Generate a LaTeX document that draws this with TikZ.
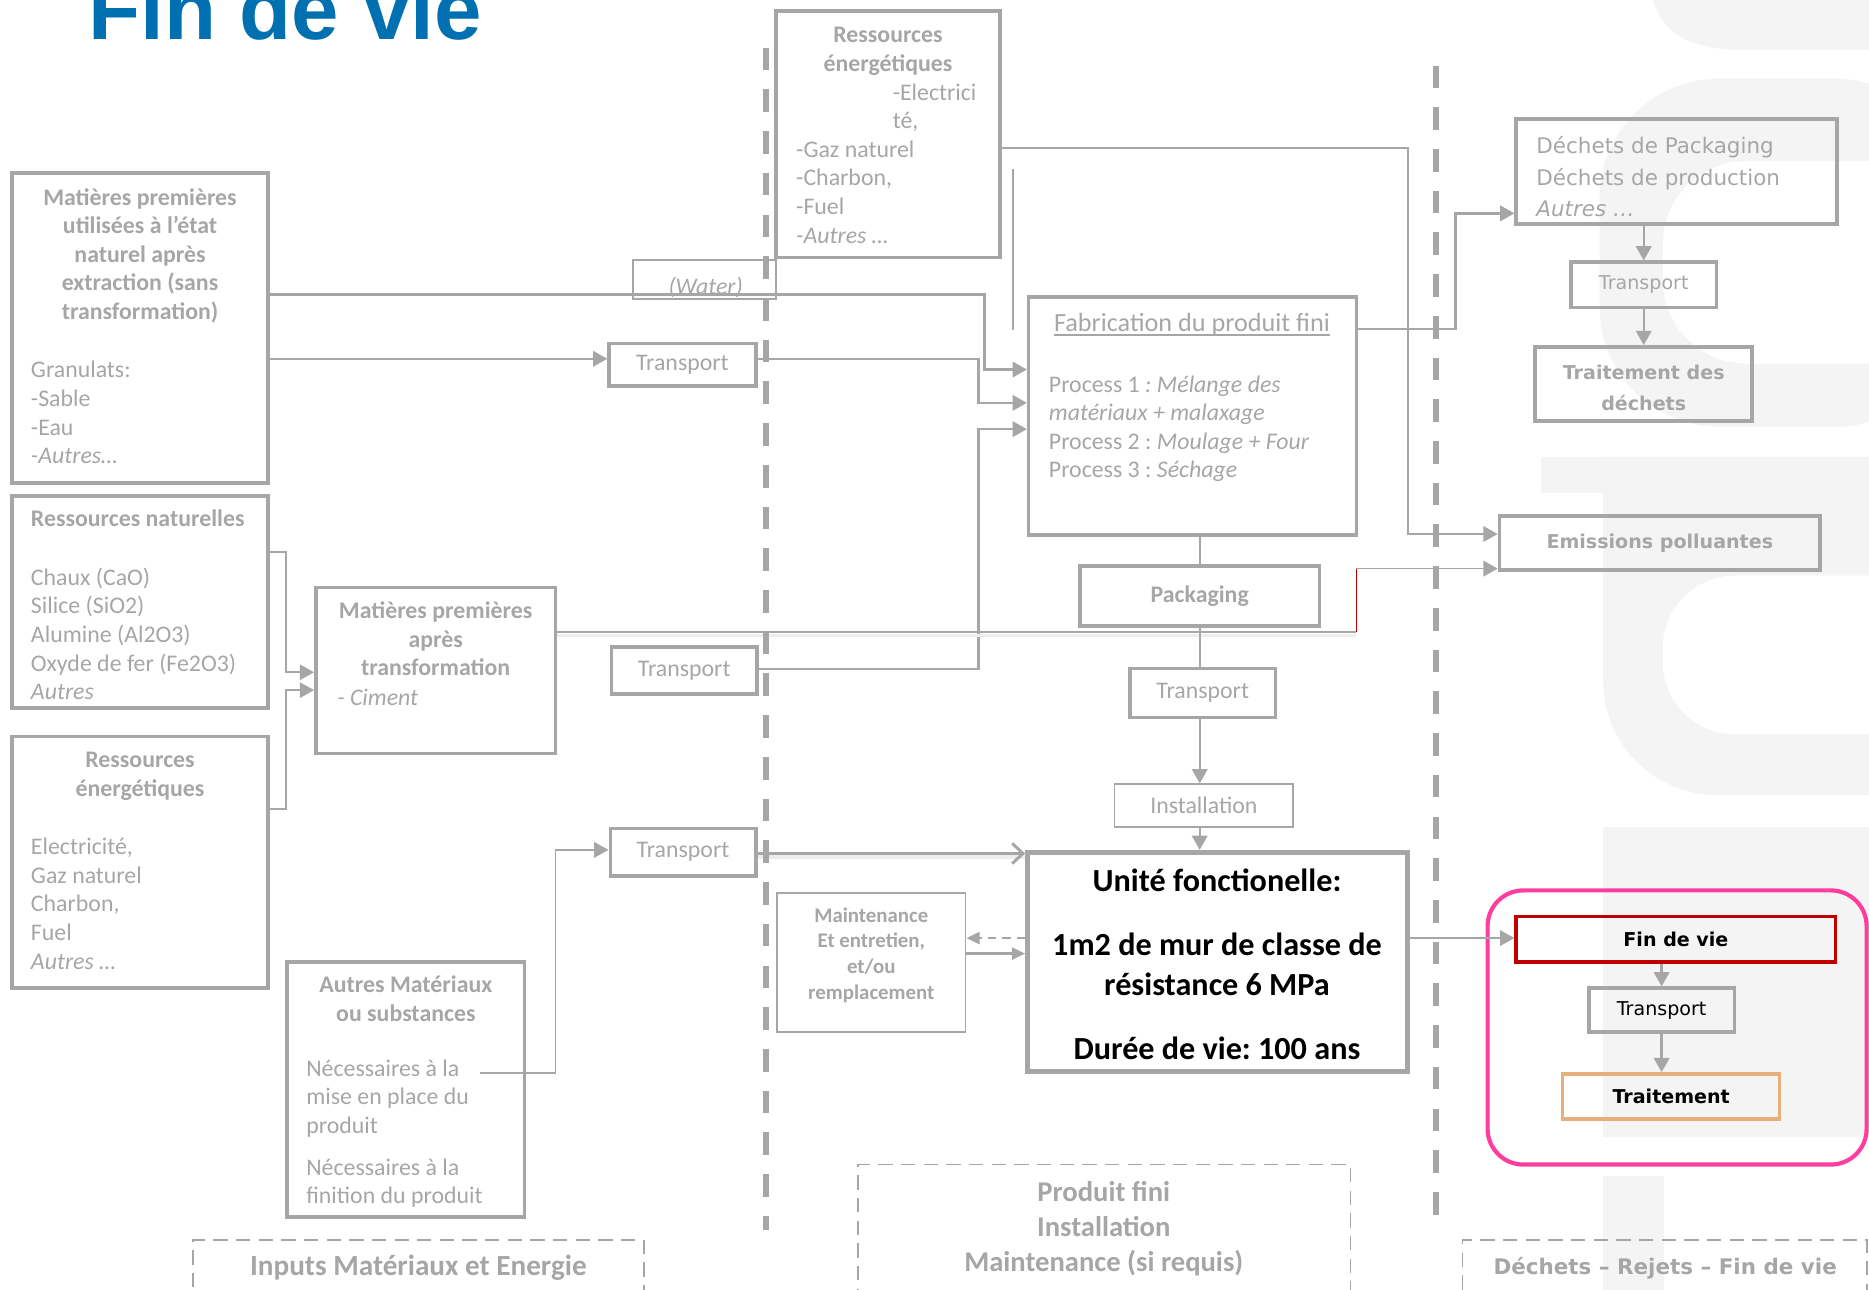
\documentclass[tikz,border=0pt]{standalone}
\usepackage{fontspec}
\setmainfont{Carlito}
\newfontfamily\vfam{DejaVu Sans}
\newfontfamily\hfam{Liberation Sans}
\usetikzlibrary{arrows.meta}
\definecolor{lg}{RGB}{166,166,166}
\definecolor{wm}{RGB}{244,244,244}
\definecolor{titleblue}{RGB}{0,112,176}
\definecolor{fvred}{RGB}{192,0,0}
\definecolor{fvorange}{RGB}{233,175,122}
\definecolor{fvpink}{RGB}{255,61,158}
\newcommand{\fsz}[2]{\fontsize{#1}{#2}\selectfont}
\newcommand{\fst}{\rule{0pt}{1em}}
\frenchspacing
\tikzset{
  box/.style={draw=lg, line width=3pt, inner sep=0pt, text=lg, font=\fsz{20}{24}},
  thinbox/.style={box, line width=1.5pt},
  txt/.style={inner sep=0pt, outer sep=0pt, text=lg, font=\fsz{20}{24}},
  btxt/.style={txt, font=\fsz{20}{24}\bfseries},
  conn/.style={draw=lg, line width=2pt},
  thinconn/.style={draw=lg, line width=1.5pt},
  tip/.style={-{Triangle[length=12pt,width=13pt]}},
  smalltip/.style={-{Triangle[length=11pt,width=10pt]}},
  sepline/.style={draw=lg, line width=5pt, dash pattern=on 19pt off 16pt},
  lblbox/.style={draw=lg, line width=1.5pt, dash pattern=on 12pt off 7pt, inner sep=0pt},
  shade line/.style={draw=black!7, line width=3pt},
  unitfont/.style={inner sep=0pt, font=\fsz{27}{34}\bfseries},
}
\begin{document}
\begin{tikzpicture}[x=1pt,y=-1pt]
\useasboundingbox (0,0) rectangle (1568,1082);
\clip (0,0) rectangle (1568,1082);

% background logo, very light
\fill[wm] (1387,0) .. controls (1395,30) and (1420,42) .. (1467,42) -- (1568,42) -- (1568,0) -- cycle;
\fill[wm, even odd rule] [rounded corners=100pt] (1342,66) rectangle (1640,358)
      [rounded corners=70pt] (1395,135) rectangle (1640,305);
\fill[wm] (1293,383) rectangle (1345,414);
\fill[wm, even odd rule] (1345,383) -- (1640,383) -- (1640,667) -- (1440,667)
      .. controls (1388,667) and (1345,624) .. (1345,572) -- cycle
      (1640,483) -- (1455,483) .. controls (1422,483) and (1395,510) .. (1395,543)
      -- (1395,556) .. controls (1395,589) and (1422,616) .. (1455,616) -- (1640,616) -- cycle;
\fill[wm] (1345,694) rectangle (1640,954);
\fill[wm] (1345,987) rectangle (1396,1090);

% title
\node[inner sep=0pt, anchor=base west, text=titleblue, font=\hfam\bfseries\fsz{71.5}{80}] (title) at (74,33) {Fin de vie};

% ---------- inputs ----------
\node[box, minimum width=215pt, minimum height=260pt] (b1) at (117.5,275) {};
\node[btxt, align=center, anchor=north] (b1h) at (117.5,152) {\fst Matières premières\\utilisées à l’état\\naturel après\\extraction (sans\\transformation)};
\node[txt, align=left, anchor=north west] (b1l) at (26,297) {\fst Granulats:\\-Sable\\-Eau\\\textit{-Autres…}};

\node[box, minimum width=215pt, minimum height=178pt] (b2) at (117.5,505) {};
\node[btxt, anchor=north west] (b2h) at (26,422) {\fst Ressources naturelles};
\node[txt, align=left, anchor=north west] (b2l) at (26,471) {\fst Chaux (CaO)\\Silice (SiO2)\\Alumine (Al2O3)\\Oxyde de fer (Fe2O3)\\\textit{Autres}};

\node[box, minimum width=215pt, minimum height=211pt] (b3) at (117.5,723.5) {};
\node[btxt, align=center, anchor=north] (b3h) at (117.5,624) {\fst Ressources\\énergétiques};
\node[txt, align=left, anchor=north west] (b3l) at (26,697) {\fst Electricité,\\Gaz naturel\\Charbon,\\Fuel\\\textit{Autres …}};

\node[box, minimum width=201pt, minimum height=139pt] (b4) at (365.5,562.5) {};
\node[btxt, align=center, anchor=north] (b4h) at (365.5,499) {\fst Matières premières\\après\\transformation};
\node[txt, anchor=north west] (b4l) at (283,572) {\fst\textit{- Ciment}};

\node[box, minimum width=199pt, minimum height=214pt] (b5) at (340.5,914) {};
\node[btxt, align=center, anchor=north] (b5h) at (340.5,813) {\fst Autres Matériaux\\ou substances};
\node[txt, align=left, anchor=north west] (b5a) at (257,883) {\fst Nécessaires à la\\mise en place du\\produit};
\node[txt, align=left, anchor=north west] (b5b) at (257,966) {\fst Nécessaires à la\\finition du produit};

\node[box, minimum width=123pt, minimum height=36pt] (t1) at (572.5,306) {Transport};
\node[box, minimum width=122pt, minimum height=39pt] (t2) at (574,562.5) {Transport};
\node[box, minimum width=122pt, minimum height=40pt] (t3) at (573,715) {Transport};

\node[thinbox, minimum width=120pt, minimum height=33pt] (wat) at (591,234.5) {};
\node[txt, anchor=base] (watl) at (592,247) {\textit{(Water)}};

% ---------- production ----------
\node[box, minimum width=188pt, minimum height=207pt] (re) at (745,112.5) {};
\node[btxt, align=center, anchor=north] (reh) at (745,16) {\fst Ressources\\énergétiques};
\node[txt, align=left, anchor=north west] (rea) at (749,64) {\fst -Electrici\\té,};
\node[txt, align=left, anchor=north west] (reb) at (668,112) {\fst -Gaz naturel\\-Charbon,\\-Fuel\\\textit{-Autres …}};

\node[box, minimum width=275pt, minimum height=200pt] (fab) at (1000.5,349) {};
\node[txt, font=\fsz{22}{26}, anchor=base] (fabh) at (1000,278) {Fabrication du produit fini};
\draw[lg, line width=1.3pt] ([yshift=-3pt]fabh.base west) -- ([yshift=-3pt]fabh.base east);
\node[txt, align=left, anchor=north west] (fabl) at (880,309) {\fst Process 1 \textit{: Mélange des}\\\textit{matériaux + malaxage}\\Process 2 : \textit{Moulage + Four}\\Process 3 : \textit{Séchage}};

\node[box, font=\fsz{20}{24}\bfseries, minimum width=201pt, minimum height=50pt] (pack) at (1006.5,500) {Packaging};
\node[box, minimum width=122pt, minimum height=41pt] (t4) at (1009,581.5) {Transport};
\node[thinbox, minimum width=150pt, minimum height=36pt] (inst) at (1010,676) {Installation};

\node[box, line width=4pt, minimum width=319pt, minimum height=184pt] (unit) at (1021.5,807) {};
\node[unitfont, anchor=base] (u1) at (1021,748) {Unité fonctionelle:};
\node[unitfont, align=center, anchor=north] (u2) at (1021,774) {\fst 1m2 de mur de classe de\\résistance 6 MPa};
\node[unitfont, anchor=base] (u3) at (1021,889) {Durée de vie: 100 ans};

\node[thinbox, minimum width=158pt, minimum height=117pt] (maint) at (731,807.5) {};
\node[txt, font=\fsz{17.5}{21.7}\bfseries, align=center, anchor=north] (maintl) at (731,756) {\fst Maintenance\\Et entretien,\\et/ou\\remplacement};

% ---------- outputs ----------
\node[box, minimum width=269pt, minimum height=88pt] (dech) at (1406.5,144) {};
\node[txt, font=\vfam\fsz{18}{26.5}, align=left, anchor=north west] (dechl) at (1289,111) {\fst Déchets de Packaging\\Déchets de production\\\textit{Autres …}};
\node[box, font=\vfam\fsz{16}{19}, minimum width=122pt, minimum height=38pt] (t5) at (1379,239) {Transport};
\node[box, minimum width=182pt, minimum height=62pt] (trd) at (1379,322) {};
\node[txt, font=\vfam\fsz{16}{26}\bfseries, align=center, anchor=north] (trdl) at (1379,302) {\fst Traitement des\\déchets};
\node[box, font=\vfam\fsz{16}{19}\bfseries, minimum width=269pt, minimum height=45pt] (emi) at (1392.5,455.5) {Emissions polluantes};

\node[draw=fvpink, line width=3.5pt, rounded corners=30pt, minimum width=318pt, minimum height=230pt, inner sep=0pt] (endbox) at (1407,862) {};
\node[box, draw=fvred, text=black, font=\vfam\fsz{16}{19}\bfseries, minimum width=268pt, minimum height=38pt] (fdv) at (1406,788) {Fin de vie};
\node[box, text=black, font=\vfam\fsz{16}{19}, minimum width=122pt, minimum height=37pt] (t6) at (1394,847.5) {Transport};
\node[box, draw=fvorange, text=black, font=\vfam\fsz{16}{19}\bfseries, minimum width=182pt, minimum height=38pt] (trt) at (1402,920) {Traitement};

% ---------- stage labels ----------
\node[lblbox, minimum width=378pt, minimum height=90pt] (inb) at (351,1085) {};
\node[txt, font=\fsz{24.5}{29.5}\bfseries, anchor=base] (inbl) at (351,1070) {Inputs Matériaux et Energie};
\node[lblbox, minimum width=413pt, minimum height=153pt] (pfb) at (926.5,1053.5) {};
\node[txt, font=\fsz{24}{29.5}\bfseries, align=center, anchor=north] (pfbl) at (926,984) {\fst Produit fini\\Installation\\Maintenance (si requis)};
\node[lblbox, minimum width=339pt, minimum height=90pt] (dfb) at (1396.5,1085) {};
\node[txt, font=\vfam\fsz{18}{22}\bfseries, anchor=base] (dfbl) at (1397,1069) {Déchets – Rejets – Fin de vie};

% ---------- connectors ----------
\draw[conn, tip] (b1.east |- 0,247) -- (826,247) |- (fab.west |- 0,310);
\draw[conn, tip] (b1.east |- 0,301) -- (t1.west |- 0,301);
\draw[conn, tip] (t1.east |- 0,301) -- (821,301) |- (fab.west |- 0,338);
\draw[conn, tip] (t2.east |- 0,561) -- (821,561) |- (fab.west |- 0,360);
\draw[thinconn, tip] (b2.east |- 0,463) -- (240,463) |- (b4.west |- 0,564);
\draw[thinconn, tip] (b3.east |- 0,679) -- (240,679) |- (b4.west |- 0,579);

\coordinate (gk) at (1138,530);
\coordinate (gk2) at (1138,477);
\draw[shade line] (b4.east |- 0,533) -- (1138,533);
\draw[thinconn] (b4.east |- gk) -- (gk);
\draw[fvred, line width=1.5pt] (gk) -- (gk2);
\draw[thinconn, tip] (gk2) -- (emi.west |- gk2);

\draw[thinconn, tip] (re.east |- 0,124) -- (1181,124) |- (emi.west |- 0,448);
\coordinate (vtop) at (850,142);
\coordinate (vbot) at (850,277);
\draw[thinconn] (vtop) -- (vbot);

\draw[conn, tip] (fab.east |- 0,276) -- (1221,276) |- (dech.west |- 0,179);
\draw[conn, tip] (dech.south -| t5.north) -- (t5.north);
\draw[conn, tip] (t5.south) -- (trd.north);

\draw[conn] (fab.south -| pack.north) -- (pack.north);
\draw[conn] (pack.south) -- (pack.south |- t4.north);
\draw[conn, tip] (pack.south |- t4.south) -- (pack.south |- inst.north);
\draw[conn, tip] (pack.south |- inst.south) -- (pack.south |- unit.north);

\draw[shade line] (t3.east |- 0,719) -- (unit.west |- 0,719);
\draw[draw=lg, line width=2.5pt, -{Straight Barb[length=9pt,width=17pt]}] (t3.east |- 0,716) -- (unit.west |- 0,716);

\coordinate (b5out) at (403,900);
\draw[thinconn, tip] (b5out) -- (466,900) |- (t3.west |- 0,713);

\draw[conn, dash pattern=on 7pt off 5pt, smalltip] (unit.west |- 0,787) -- (maint.east |- 0,787);
\draw[conn, smalltip] (maint.east |- 0,800) -- (unit.west |- 0,800);

\draw[thinconn, tip] (unit.east |- 0,787) -- (fdv.west |- 0,787);
\draw[conn, tip] (fdv.south -| t6.north) -- (t6.north);
\draw[conn, tip] (t6.south) -- (t6.south |- trt.north);

% stage separators
\draw[sepline] (643,40) -- (643,1032);
\draw[sepline] (1205,55) -- (1205,1025);
\end{tikzpicture}
\end{document}
